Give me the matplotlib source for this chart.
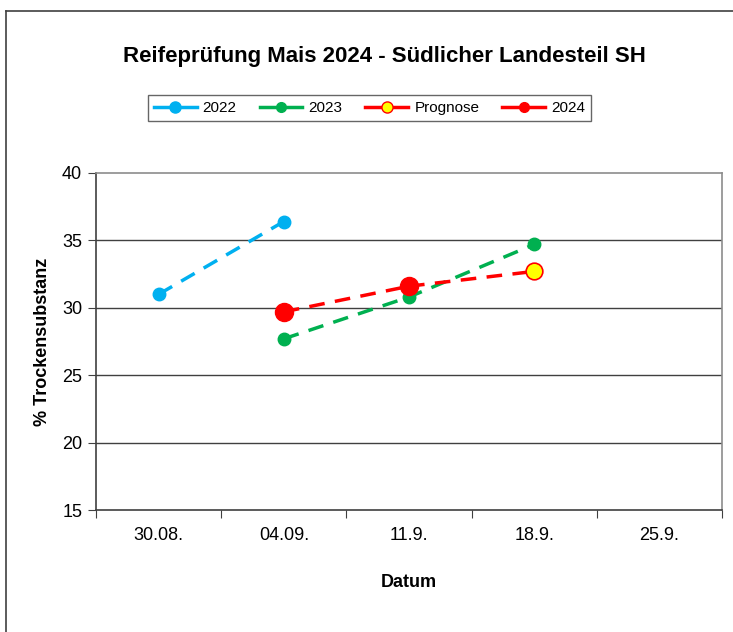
import matplotlib
matplotlib.use("Agg")
import matplotlib.pyplot as plt
import numpy as np
from matplotlib.lines import Line2D

plt.rcParams['font.family'] = ['Liberation Sans', 'DejaVu Sans']

categories = ["30.08.", "04.09.", "11.9.", "18.9.", "25.9."]
s2022 = [31.0, 36.4, np.nan, np.nan, np.nan]
s2023 = [np.nan, 27.7, 30.8, 34.7, np.nan]
prognose = [np.nan, np.nan, 31.6, 32.7, np.nan]
s2024 = [np.nan, 29.7, 31.6, np.nan, np.nan]
yticks = [15, 20, 25, 30, 35, 40]

fig = plt.figure(figsize=(7.33, 6.32), dpi=100)
ax = fig.add_axes([0.131, 0.193, 0.854, 0.5333])

x = np.arange(len(categories))
dash = (0, (4.5, 3))
ax.plot(x, s2022, color='#00B0F0', lw=2.5, linestyle=dash, marker='o', ms=9,
        mec='#00B0F0', mfc='#00B0F0', zorder=3)
ax.plot(x, s2023, color='#00B050', lw=2.5, linestyle=dash, marker='o', ms=9,
        mec='#00B050', mfc='#00B050', zorder=3)
ax.plot(x, prognose, color='#FF0000', lw=2.5, linestyle=dash, marker='o', ms=12,
        mec='#FF0000', mfc='#FFFF00', mew=1.2, markevery=[3], zorder=4)
ax.plot(x, s2024, color='#FF0000', lw=2.5, linestyle=dash, marker='o', ms=13,
        mec='#FF0000', mfc='#FF0000', zorder=5)

ax.set_xlim(-0.5, 4.5)
ax.set_ylim(15, 40)
ax.set_yticks(yticks)
ax.set_yticklabels([str(v) for v in yticks], fontsize=13)
ax.set_xticks(np.arange(-0.5, 5.0, 1.0))
ax.set_xticklabels([])
ax.set_xticks(x, minor=True)
ax.set_xticklabels(categories, minor=True, fontsize=13)
ax.tick_params(axis='x', which='major', length=6, color='#404040', direction='out')
ax.tick_params(axis='x', which='minor', length=0, pad=12)
ax.tick_params(axis='y', length=6, color='#404040', direction='out', pad=4)

for v in [20, 25, 30, 35]:
    ax.axhline(v, color='#404040', lw=1.0, zorder=1)

ax.spines['left'].set_color('#404040')
ax.spines['bottom'].set_color('#404040')
ax.spines['top'].set_color('#8C8C8C')
ax.spines['right'].set_color('#8C8C8C')
for s in ax.spines.values():
    s.set_linewidth(1.2)

ax.set_ylabel('% Trockensubstanz', fontsize=13, fontweight='bold', labelpad=8)
ax.set_xlabel('Datum', fontsize=13, fontweight='bold', labelpad=22)

fig.text(0.525, 0.911, 'Reifeprüfung Mais 2024 - Südlicher Landesteil SH',
         ha='center', va='center', fontsize=16, fontweight='bold')

handles = [
    Line2D([], [], color='#00B0F0', lw=2.5, marker='o', ms=8, mfc='#00B0F0', mec='#00B0F0'),
    Line2D([], [], color='#00B050', lw=2.5, marker='o', ms=7, mfc='#00B050', mec='#00B050'),
    Line2D([], [], color='#FF0000', lw=2.5, marker='o', ms=8, mfc='#FFFF00', mec='#FF0000'),
    Line2D([], [], color='#FF0000', lw=2.5, marker='o', ms=7, mfc='#FF0000', mec='#FF0000'),
]
leg = fig.legend(handles, ['2022', '2023', 'Prognose', '2024'], loc='center',
                 bbox_to_anchor=(0.504, 0.829), ncol=4, frameon=True, fancybox=False,
                 fontsize=11, handlelength=2.8, columnspacing=1.5, handletextpad=0.4,
                 borderpad=0.4)
leg.get_frame().set_edgecolor('#404040')
leg.get_frame().set_linewidth(1.0)

# figure border (left and top)
fig.add_artist(Line2D([0.0085, 0.0085], [0.0, 0.983], transform=fig.transFigure,
                      color='#404040', lw=1.2))
fig.add_artist(Line2D([0.0085, 1.0], [0.983, 0.983], transform=fig.transFigure,
                      color='#404040', lw=1.2))

fig.savefig('out.png', dpi=100)
